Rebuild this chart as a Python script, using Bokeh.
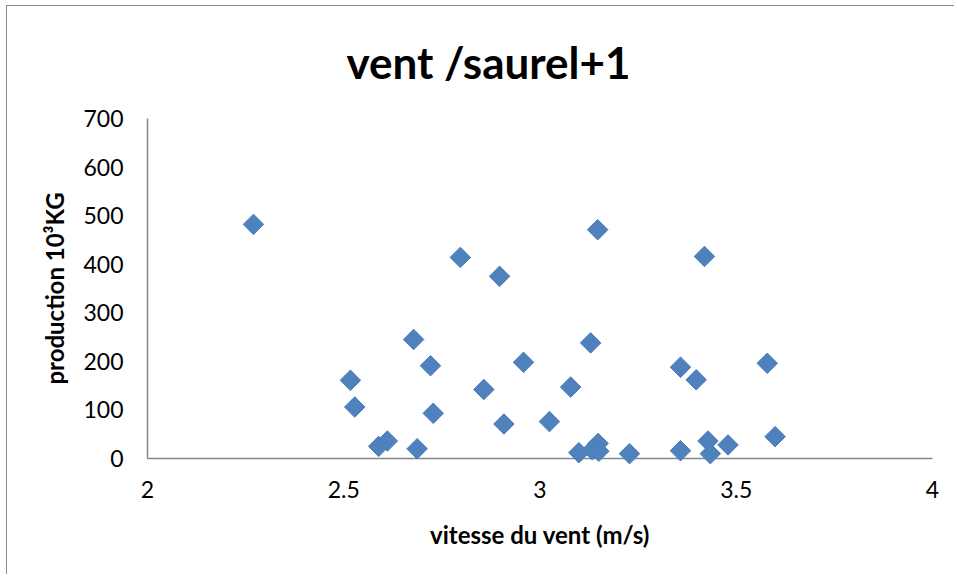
import numpy as np
from bokeh.plotting import figure
from bokeh.models import Range1d, FixedTicker
from bokeh.embed import file_html
from bokeh.resources import INLINE

# data
wind_speed = [2.270, 2.517, 2.528, 2.589, 2.611, 2.678, 2.687, 2.721, 2.728, 2.797,
              2.857, 2.897, 2.908, 2.958, 3.024, 3.078, 3.099, 3.129, 3.133, 3.147,
              3.148, 3.150, 3.228, 3.358, 3.358, 3.398, 3.419, 3.428, 3.434, 3.479,
              3.579, 3.599]
production = [482, 161, 106, 25, 36, 245, 20, 191, 93, 414,
              142, 375, 71, 198, 76, 147, 12, 238, 18, 471,
              31, 15, 10, 188, 16, 162, 416, 36, 10, 28,
              196, 45]

x_ticks = [2, 2.5, 3, 3.5, 4]
x_tick_labels = ["2", "2.5", "3", "3.5", "4"]
y_ticks = [0, 100, 200, 300, 400, 500, 600, 700]
y_tick_labels = ["0", "100", "200", "300", "400", "500", "600", "700"]

title_text = "vent /saurel+1"
x_label = "vitesse du vent (m/s)"
y_label = "production 10³KG"

FONT = "Lato"
AXIS_GREY = "#868686"

p = figure(width=948, height=569, output_backend="svg", toolbar_location=None,
           x_range=Range1d(2, 4), y_range=Range1d(0, 700),
           min_border_left=140, min_border_right=23, min_border_top=112,
           min_border_bottom=117)
p.styles = {"margin-left": "6px", "margin-top": "5px",
            "border-left": "1px solid #8c8c8c", "border-top": "1px solid #8c8c8c"}
p.outline_line_color = None
p.xgrid.grid_line_color = None
p.ygrid.grid_line_color = None
p.background_fill_color = "white"
p.border_fill_color = "white"

p.title.text = title_text
p.title.align = "left"
p.title.offset = 199
p.title.vertical_align = "top"
p.title.standoff = 57
p.title.text_font = FONT
p.title.text_font_style = "bold"
p.title.text_font_size = "44px"
p.title.text_color = "black"

for ax in (p.xaxis[0], p.yaxis[0]):
    ax.axis_line_color = AXIS_GREY
    ax.axis_line_width = 1.5
    ax.major_tick_line_color = None
    ax.minor_tick_line_color = None
    ax.major_label_text_font = FONT
    ax.major_label_text_font_size = "23px"
    ax.major_label_text_color = "black"
    ax.axis_label_text_font = FONT
    ax.axis_label_text_font_style = "bold"
    ax.axis_label_text_font_size = "24px"
    ax.axis_label_text_color = "black"

p.xaxis.ticker = FixedTicker(ticks=x_ticks)
p.xaxis.major_label_overrides = {t: l for t, l in zip(x_ticks, x_tick_labels)}
p.yaxis.ticker = FixedTicker(ticks=y_ticks)
p.yaxis.major_label_overrides = {t: l for t, l in zip(y_ticks, y_tick_labels)}
p.xaxis.major_label_standoff = 16
p.yaxis.major_label_standoff = 18
p.xaxis.axis_label = x_label
p.yaxis.axis_label = y_label
p.xaxis.axis_label_standoff = 19
p.yaxis.axis_label_standoff = 11

p.scatter(wind_speed, production, marker="square", angle=np.pi / 4, size=14.5,
          fill_color="#4F81BD", line_color="#4A7EBB", line_width=1, level="overlay")

open("out.html", "w").write(file_html(p, INLINE))
